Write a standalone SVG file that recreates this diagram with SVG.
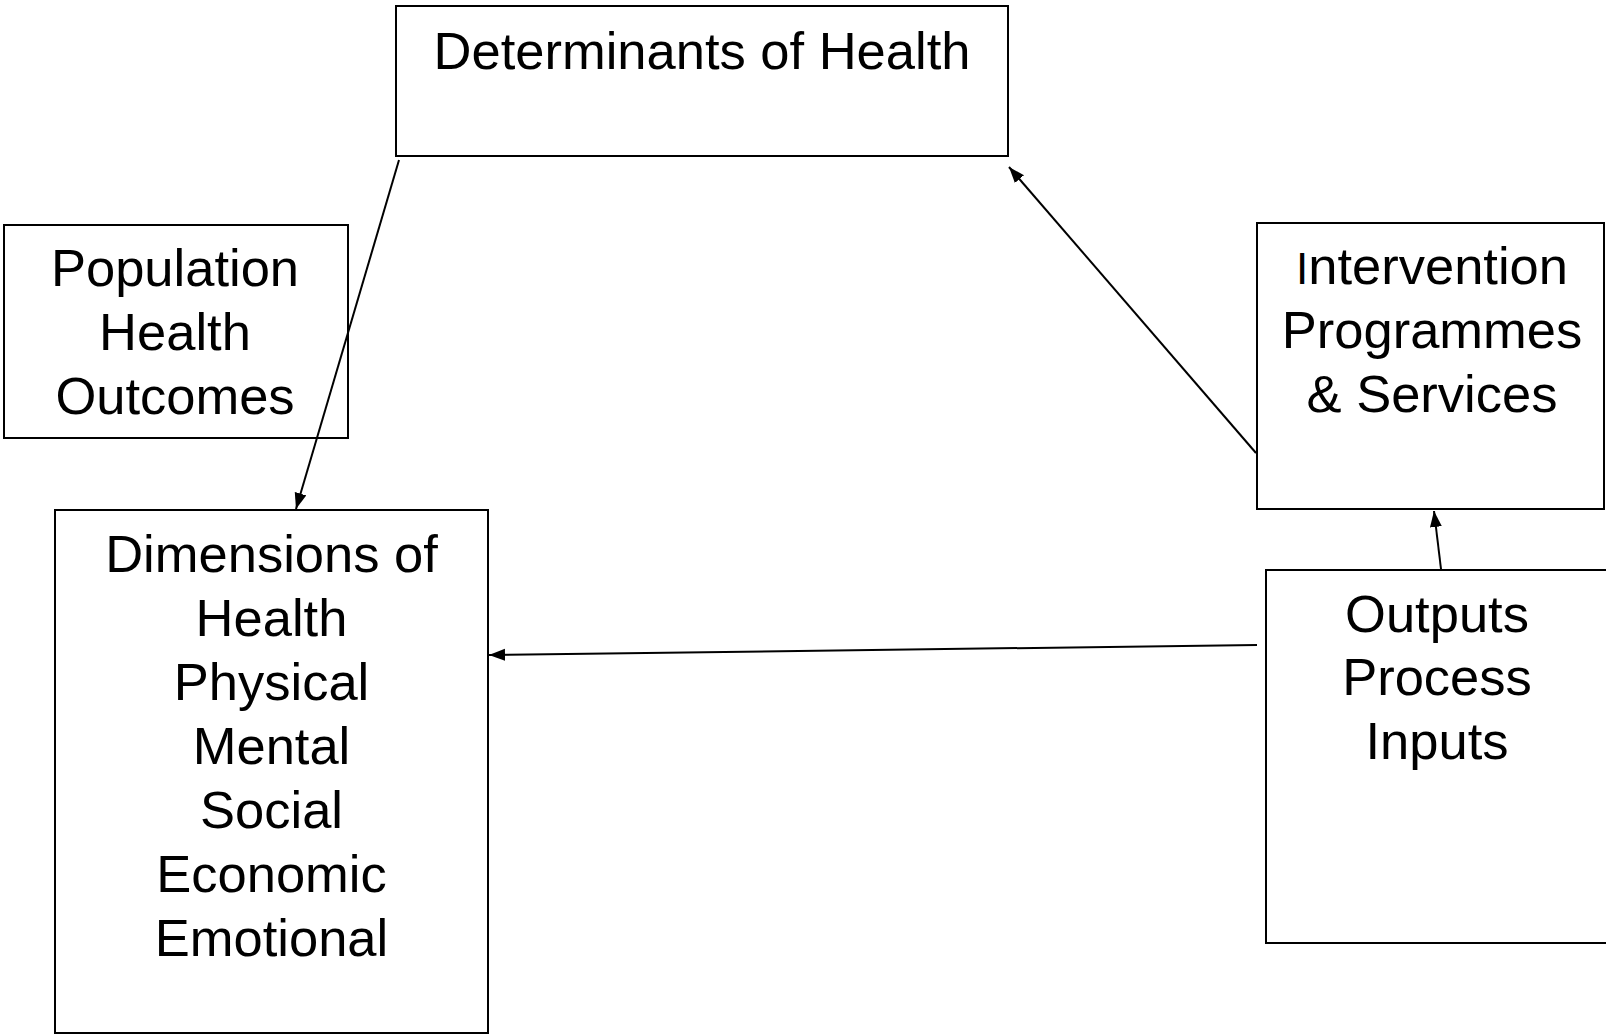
<svg xmlns="http://www.w3.org/2000/svg" width="1606" height="1034" viewBox="0 0 1606 1034">
<style>
.box{fill:#fff;stroke:#000;stroke-width:2}
.t{font-family:"Liberation Sans",Arial,sans-serif;font-size:52.5px;fill:#000;text-anchor:middle}
.c{fill:none;stroke:#000;stroke-width:2}
</style>
<defs>
<marker id="ah" markerUnits="userSpaceOnUse" markerWidth="17" markerHeight="13" refX="16" refY="6" orient="auto">
<path d="M0,0 L16,6 L0,12 z" fill="#000"/>
</marker>
</defs>
<rect width="1606" height="1034" fill="#fff"/>
<g id="determinants">
<rect class="box" x="396" y="6" width="612" height="150"/>
<text class="t" x="702" y="69">Determinants of Health</text>
</g>
<g id="population">
<rect class="box" x="4" y="225" width="344" height="213"/>
<text class="t" x="175" y="286">Population</text>
<text class="t" x="175" y="350">Health</text>
<text class="t" x="175" y="414">Outcomes</text>
</g>
<g id="intervention">
<rect class="box" x="1257" y="223" width="347" height="286"/>
<text class="t" x="1432" y="284"><tspan font-size="44">I</tspan>ntervention</text>
<text class="t" x="1432" y="348">Programmes</text>
<text class="t" x="1432" y="412">&amp; Services</text>
</g>
<g id="outputs">
<rect class="box" x="1266" y="570" width="346" height="373"/>
<text class="t" x="1437" y="632">Outputs</text>
<text class="t" x="1437" y="695">Process</text>
<text class="t" x="1437" y="759">Inputs</text>
</g>
<g id="dimensions">
<rect class="box" x="55" y="510" width="433" height="523"/>
<text class="t" x="271.5" y="572">Dimensions of</text>
<text class="t" x="271.5" y="636">Health</text>
<text class="t" x="271.5" y="700">Physical</text>
<text class="t" x="271.5" y="764">Mental</text>
<text class="t" x="271.5" y="828">Social</text>
<text class="t" x="271.5" y="892">Economic</text>
<text class="t" x="271.5" y="956">Emotional</text>
</g>
<g id="connectors">
<line class="c" x1="399" y1="160" x2="296" y2="509" marker-end="url(#ah)"/>
<line class="c" x1="1256" y1="453" x2="1009" y2="167" marker-end="url(#ah)"/>
<line class="c" x1="1441" y1="569" x2="1434" y2="511" marker-end="url(#ah)"/>
<line class="c" x1="1257" y1="645" x2="489" y2="655" marker-end="url(#ah)"/>
</g>
</svg>
